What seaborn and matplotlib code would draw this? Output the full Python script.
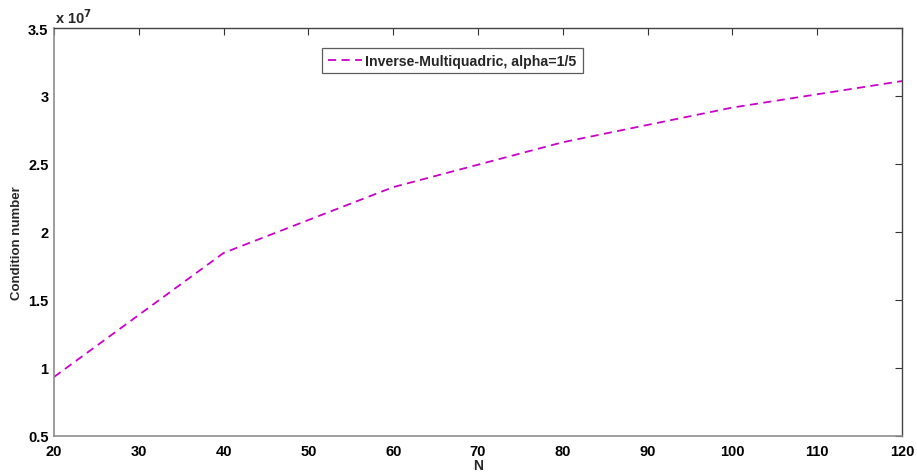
import matplotlib
matplotlib.use("Agg")
import matplotlib.pyplot as plt
import seaborn as sns
import pandas as pd
from matplotlib.ticker import FuncFormatter, FixedLocator

# Condition number of the interpolation matrix vs. number of nodes
n_nodes = [20, 40, 60, 80, 100, 120]
cond_number = [0.934e7, 1.846e7, 2.33e7, 2.66e7, 2.915e7, 3.11e7]
series_label = "Inverse-Multiquadric, alpha=1/5"

x_ticks = [20, 30, 40, 50, 60, 70, 80, 90, 100, 110, 120]
y_ticks = [0.5e7, 1.0e7, 1.5e7, 2.0e7, 2.5e7, 3.0e7, 3.5e7]

df = pd.DataFrame({"N": n_nodes, "cond": cond_number, "kind": series_label})

sns.set_theme(style="white")
plt.rcParams["font.family"] = ["Liberation Sans", "DejaVu Sans"]
plt.rcParams["font.weight"] = "bold"

FS = 10.5

fig = plt.figure(figsize=(9.17, 4.77), dpi=100)
ax = fig.add_axes([0.0589, 0.0839, 0.9248, 0.8553])

sns.lineplot(data=df, x="N", y="cond", hue="kind", palette=["#cc00cc"],
             ax=ax, linewidth=1.3, linestyle="--", legend=False)
ax.lines[0].set_dashes([4.5, 3])
ax.lines[0].set_label(series_label)

ax.set_xlim(20, 120)
ax.set_ylim(0.5e7, 3.5e7)
ax.xaxis.set_major_locator(FixedLocator(x_ticks))
ax.yaxis.set_major_locator(FixedLocator(y_ticks))
ax.yaxis.set_major_formatter(FuncFormatter(lambda v, p: f"{v / 1e7:g}"))
ax.xaxis.set_major_formatter(FuncFormatter(lambda v, p: f"{v:g}"))

ax.tick_params(direction="in", length=5, width=0.8, color="#333333",
               top=True, right=True, labelsize=FS, labelcolor="black")
ax.tick_params(axis="x", pad=6)
ax.tick_params(axis="y", pad=4)
for lbl in ax.get_xticklabels() + ax.get_yticklabels():
    lbl.set_fontweight("bold")

for side in ["left", "bottom"]:
    ax.spines[side].set_color("#8c8c8c")
    ax.spines[side].set_linewidth(1.2)
for side in ["top", "right"]:
    ax.spines[side].set_color("#444444")
    ax.spines[side].set_linewidth(1.0)

ax.set_xlabel("N", fontsize=10, fontweight="bold", labelpad=0)
ax.set_ylabel("Condition number", fontsize=9.5, fontweight="bold")
ax.yaxis.set_label_coords(-0.0366, 0.475)

ax.text(0.001, 1.004, r"x 10$^{7}$", transform=ax.transAxes, fontsize=FS,
        fontweight="bold", ha="left", va="bottom")

leg = ax.legend(loc="upper left", bbox_to_anchor=(0.316, 0.952), fontsize=10.2,
                frameon=True, fancybox=False, edgecolor="#333333",
                handlelength=2.4, handletextpad=0.25, borderpad=0.42,
                borderaxespad=0)
leg.get_frame().set_linewidth(0.9)
leg.get_lines()[0].set_dashes([4.5, 3])
for t in leg.get_texts():
    t.set_fontweight("bold")

fig.savefig("out.png", dpi=100, facecolor="white")
